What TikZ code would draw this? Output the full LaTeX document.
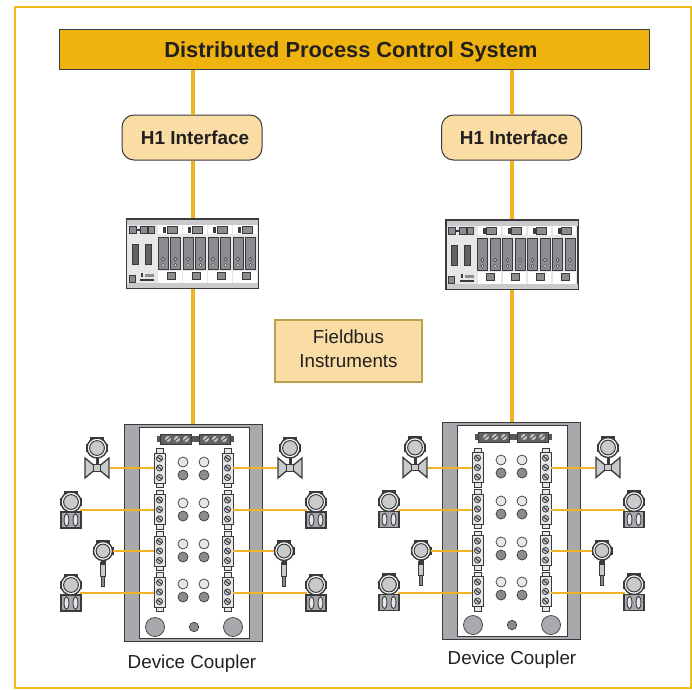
\documentclass[tikz,border=0pt]{standalone}
\usepackage{fontspec}
\setmainfont{Liberation Sans}
\definecolor{gold}{HTML}{EEB30F}
\definecolor{wire}{HTML}{F0B323}
\definecolor{framey}{HTML}{F1BC1F}
\definecolor{cream}{HTML}{F9DDA5}
\definecolor{ink}{HTML}{231F20}
\definecolor{dk}{HTML}{3A3A3C}
\definecolor{mid}{HTML}{8A8C8F}
\definecolor{lt}{HTML}{C9CACC}
\definecolor{pale}{HTML}{E6E7E8}
\definecolor{gr}{HTML}{A7A9AC}
\tikzset{
  x=1pt,y=-1pt,
  busline/.style={draw=wire,line width=3.2pt},
  spur/.style={draw=wire,line width=2pt},
  ifbox/.style={draw=dk,line width=1pt,fill=cream,rounded corners=12pt,minimum width=140pt,minimum height=45pt,inner sep=0,text=ink,font=\bfseries\fontsize{18.9}{22}\selectfont},
  box/.style={draw=dk,line width=1pt,inner sep=0},
  pt/.style={draw=none,inner sep=0,minimum size=0pt},
  term/.style={draw=dk,line width=.9pt,fill=pale,minimum width=11pt,minimum height=30pt,inner sep=0},
  ledl/.style={draw=dk,line width=.7pt,fill=pale},
  ledd/.style={draw=dk,line width=.7pt,fill=mid},
}
\newcommand\screw[2]{\fill[lt,draw=dk,line width=.8pt] (#1,#2) circle (3.1);\draw[dk,line width=1.1pt] (#1-2.2,#2-1.8) -- (#1+2.2,#2+1.8);}
\newcommand\terminal[3]{%
  \fill[pale,draw=dk,line width=.8pt] (#2-3.5,#3-19.5) rectangle (#2+3.5,#3+19.5);
  \node[term] (#1) at (#2,#3) {};
  \screw{#2}{#3-9.5}\screw{#2}{#3}\screw{#2}{#3+9.5}}
\newcommand\head[3]{%
  \fill[dk] (#1-7,#2-#3-1.5) rectangle (#1+7,#2-#3+4);
  \fill[dk] (#1-#3-1,#2-4) rectangle (#1+#3+1,#2+4);
  \fill[white,draw=dk,line width=1.4pt] (#1,#2) circle (#3);
  \fill[lt,draw=dk,line width=1pt] (#1,#2) circle (#3-2.6);}
\newcommand\valve[3]{%
  \fill[dk] (#2-1.5,#3+8) rectangle (#2+1.5,#3+18);
  \head{#2}{#3}{10}
  \fill[lt,draw=dk,line width=1.3pt] (#2-12,#3+10) -- (#2,#3+20) -- (#2-12,#3+30) -- cycle;
  \fill[lt,draw=dk,line width=1.3pt] (#2+12,#3+10) -- (#2,#3+20) -- (#2+12,#3+30) -- cycle;
  \fill[lt,draw=dk,line width=.9pt] (#2-3.2,#3+16.8) rectangle (#2+3.2,#3+23.2);
  \node[pt] (#1) at (#2+12.5,#3+20) {};
  \node[pt] (#1w) at (#2-12.5,#3+20) {};}
\newcommand\xmtr[3]{%
  \fill[gr,draw=dk,line width=1.5pt] (#2-10,#3+10) rectangle (#2+10,#3+26);
  \draw[dk,line width=.9pt,fill=pale] (#2-4.5,#3+18) ellipse (2.4 and 6.3);
  \draw[dk,line width=.9pt,fill=pale] (#2+4.5,#3+18) ellipse (2.4 and 6.3);
  \head{#2}{#3}{10}
  \node[pt] (#1) at (#2+9,#3+8) {};
  \node[pt] (#1w) at (#2-9,#3+8) {};}
\newcommand\probe[3]{%
  \fill[lt,draw=dk,line width=.8pt] (#2-2.4,#3+11) rectangle (#2+2.4,#3+25);
  \fill[mid,draw=dk,line width=.5pt] (#2-1.3,#3+25) rectangle (#2+1.3,#3+35);
  \fill[dk] (#2-2.5,#3+9) rectangle (#2+2.5,#3+14);
  \head{#2}{#3}{9.5}
  \node[pt] (#1) at (#2+9.5,#3) {};
  \node[pt] (#1w) at (#2-9.5,#3) {};}
\newcommand\coupler[4]{%
\begin{scope}[shift={(#2,#3)}]
  \node[box,fill=gr,minimum width=138pt,minimum height=217pt] (#1box) at (193.5,532.5) {};
  \fill[white,draw=dk,line width=1pt] (139,427.5) rectangle (249,638);
  \fill[dk!85] (157,436) rectangle (234,442);
  \fill[dk!80,draw=dk,line width=.6pt] (160,434) rectangle (191,444);
  \fill[dk!80,draw=dk,line width=.6pt] (199,434) rectangle (230,444);
  \foreach \s in {168,177,186,206,215,224}{\fill[lt] (\s,439) circle (2.9);\draw[dk,line width=.8pt] (\s-2,439+1.5) -- (\s+2,439-1.5);}
  \foreach \y [count=\n] in {462,503,544,584}{
    \foreach \x in {183,204}{
      \draw[ledl] (\x,\y) circle (5);
      \draw[ledd] (\x,\y+13) circle (5);}}
  \draw[ledd,fill=gr] (155,627) circle (9.5);
  \draw[ledd,fill=gr] (233,627) circle (9.5);
  \draw[ledd] (194,627) circle (4.7);
  \begin{scope}[shift={(0,#4)}]
  \terminal{#1ta}{159.5}{468}
  \terminal{#1tb}{159.5}{509.5}
  \terminal{#1tc}{159.5}{551}
  \terminal{#1td}{159.5}{592}
  \terminal{#1ua}{227.5}{468}
  \terminal{#1ub}{227.5}{509.5}
  \terminal{#1uc}{227.5}{551}
  \terminal{#1ud}{227.5}{592}
  \valve{#1va}{97}{448}
  \xmtr{#1vb}{71}{502}
  \probe{#1vc}{103}{551}
  \xmtr{#1vd}{71}{585}
  \valve{#1wa}{290}{448}
  \xmtr{#1wb}{316}{502}
  \probe{#1wc}{284}{551}
  \xmtr{#1wd}{316}{585}
  \draw[spur] (#1va) -- (#1ta.west |- #1va);
  \draw[spur] (#1vb) -- (#1tb.west |- #1vb);
  \draw[spur] (#1vc) -- (#1tc.west |- #1vc);
  \draw[spur] (#1vd) -- (#1td.west |- #1vd);
  \draw[spur] (#1ua.east |- #1waw) -- (#1waw);
  \draw[spur] (#1ub.east |- #1wbw) -- (#1wbw);
  \draw[spur] (#1uc.east |- #1wcw) -- (#1wcw);
  \draw[spur] (#1ud.east |- #1wdw) -- (#1wdw);
  \end{scope}
\end{scope}}
\newcommand\rack[3]{%
\begin{scope}[shift={(#2,#3)}]
  \node[box,line width=1.2pt,fill=pale,minimum width=132pt,minimum height=69pt] (#1) at (192.5,253.5) {};
  \fill[lt] (127,219.6) rectangle (258,224.5);
  \fill[lt] (127,283) rectangle (258,287.5);
  \foreach \x in {158,183,208,233}{
    \fill[white] (\x,225) rectangle (\x+23.5,233.5);
    \fill[white] (\x,271) rectangle (\x+23.5,283);
    \fill[dk] (\x+5,226.5) rectangle (\x+8,233);
    \fill[mid,draw=dk,line width=.7pt] (\x+9,226.5) rectangle (\x+19,233);
    \fill[mid,draw=dk,line width=.7pt] (\x+9,272.5) rectangle (\x+17,279);
    \foreach \d in {0,12.5}{
      \fill[mid,draw=dk,line width=.7pt] (\x+\d,237) rectangle (\x+\d+10,269);
      \draw[dk,fill=lt,line width=.5pt] (\x+\d+5,259) circle (1.8);
      \draw[dk,fill=white,line width=.5pt] (\x+\d+5,265) circle (1.6);}}
  \fill[mid,draw=dk,line width=.7pt] (129,226.5) rectangle (136,233);
  \fill[mid,draw=dk,line width=.7pt] (140,226.5) rectangle (147,233);
  \fill[mid,draw=dk,line width=.7pt] (148,226.5) rectangle (154,233);
  \fill[dk] (136,229) rectangle (140,230.5);
  \fill[mid!70!black,draw=dk,line width=.7pt] (132,244) rectangle (138,264);
  \fill[mid!70!black,draw=dk,line width=.7pt] (145,244) rectangle (151,264);
  \fill[mid,draw=dk,line width=.6pt] (129,275) rectangle (135,282);
  \fill[dk] (141,273) rectangle (143,277);
  \fill[mid] (145,274) rectangle (154,277);
  \fill[dk] (140,279) rectangle (154,281);
\end{scope}}
\begin{document}
\begin{tikzpicture}[font=\fontsize{18.8}{22.5}\selectfont,text=ink]
\useasboundingbox (0,0) rectangle (692,689);
\fill[white] (0,0) rectangle (692,689);
\draw[framey,line width=2pt] (14.5,6.5) rectangle (691,688);
\node[box,fill=gold,minimum width=590pt,minimum height=40pt] (bar) at (354,49) {};
\node[inner sep=0,font=\bfseries\fontsize{21.8}{24}\selectfont] (bartext) at (351,52) {Distributed Process Control System};
\node[ifbox] (ha) at (192,137.5) {\hspace*{6pt}H1 Interface};
\node[ifbox] (hb) at (511.5,137.5) {\hspace*{5pt}H1 Interface};
\coupler{a}{0}{0}{0}
\coupler{b}{318}{-2}{1.5}
\rack{ra}{0}{0}
\rack{rb}{319.5}{1}
\draw[busline] (ha.north -| 193,0) -- (bar.south -| 193,0);
\draw[busline] (ha.south -| 193,0) -- (ra.north -| 193,0);
\draw[busline] (ra.south -| 193,0) -- (abox.north -| 193,0);
\draw[busline] (hb.north -| 512,0) -- (bar.south -| 512,0);
\draw[busline] (hb.south -| 512,0) -- (rb.north -| 512,0);
\draw[busline] (rb.south -| 512,0) -- (bbox.north -| 512,0);
\node[box,fill=cream,draw=mid!50!gold,line width=1.2pt,minimum width=147pt,minimum height=62pt,align=center] (fb) at (348.5,351) {\raisebox{2pt}{Fieldbus}\\[-1pt]Instruments\rule[-5pt]{0pt}{5pt}};
\node[inner sep=0] (dca) at (192,663.5) {Device Coupler};
\node[inner sep=0] (dcb) at (512,659.5) {Device Coupler};
\end{tikzpicture}
\end{document}
